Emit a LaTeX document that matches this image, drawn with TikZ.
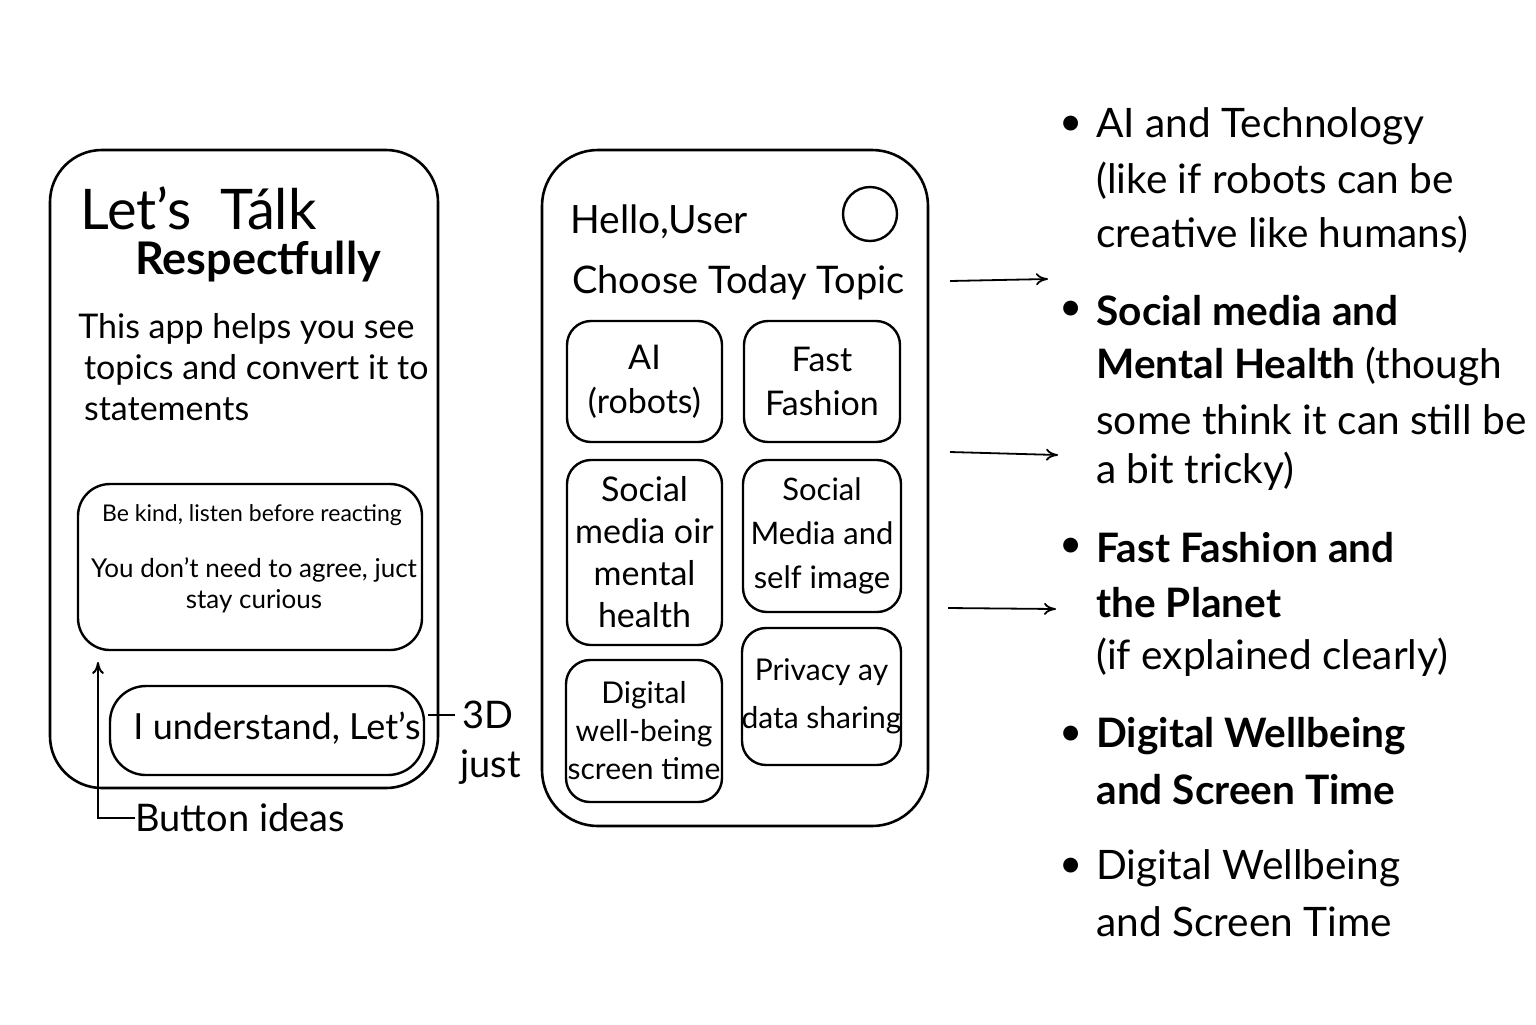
\documentclass[tikz,border=0pt]{standalone}
\usepackage{fontspec}
\setmainfont{Lato}
\usetikzlibrary{arrows.meta}
\begin{document}
\begin{tikzpicture}[x=0.5pt,y=-0.5pt]

\tikzset{
        every node/.style={inner sep=0pt},
        phone/.style={draw,line width=1.3pt,rounded corners=26pt},
        tile/.style={draw,line width=1.2pt,rounded corners=12pt},
        tiletext/.style={align=center},
        big/.style={font=\fontsize{19}{22}\selectfont},
        item/.style={anchor=west,font=\fontsize{20.3}{23}\selectfont},
        link/.style={->,>={To[length=6pt,width=6pt]},line width=0.9pt}
}

\useasboundingbox (0,0) rectangle (1536,1024);

% left phone
\draw[phone] (50,150) rectangle (438,788);
\node[anchor=west,font=\fontsize{28}{33}\selectfont] (talk) at (80,208) {Let’s\ \ Tálk};
\node[anchor=west,font=\fontsize{22.5}{25}\selectfont\bfseries] (resp) at (135,262) {Respectfully};
\node[anchor=north west,align=left,font=\fontsize{17}{20.5}\selectfont] (intro) at (78,313)
  {This app helps you see\\ \,topics and convert it to\\ \,statements};
\draw[tile,rounded corners=16pt] (78,484) rectangle (422,650);
\node[font=\fontsize{11.5}{14}\selectfont] (kind) at (252,515) {Be kind, listen before reacting};
\node[align=center,font=\fontsize{13}{15.5}\selectfont] (agree) at (254,585) {You don’t need to agree, juct\\ stay curious};
\draw[tile,rounded corners=18pt] (110,686) rectangle (424,775);
\node[font=\fontsize{18}{22}\selectfont] (btn) at (277,728) {I understand, Let’s};
\node[big,anchor=west] (ideas) at (135,818) {Button ideas};
\coordinate (up) at (98,662);
\draw[link,line width=1pt] (ideas.west) -- (98,818) -- (up);
\node[big,anchor=west] (three) at (462,715) {3D};
\node[big,anchor=west] (just) at (460,767) {just};
\draw[line width=1pt] (428,715) -- (455,715);

% middle phone
\draw[phone,rounded corners=28pt] (542,150) rectangle (928,826);
\node[anchor=west,font=\fontsize{19.5}{23}\selectfont] (hello) at (570,222) {Hello,User};
\node[draw,circle,line width=1.2pt,minimum size=27pt] (avatar) at (870,214) {};
\node[anchor=west,font=\fontsize{19}{22}\selectfont] (choose) at (572,283) {Choose Today Topic};

\foreach \n/\a/\b/\c/\d/\s/\l/\t in {
    ai/567/321/722/442/17/22/{AI\\(robots)},
    fashion/744/321/900/442/17/22/{Fast\\Fashion},
    social/567/460/722/645/17/21/{Social\\media oir\\mental\\health},
    self/743/460/901/612/15.5/22/{Social\\Media and\\self image},
    digital/566/660/722/802/15/19/{Digital\\well-being\\screen time},
    privacy/742/628/901/765/15/24/{Privacy ay\\data sharing}} {
  \draw[tile] (\a,\b) rectangle (\c,\d);
  \node[tiletext,font=\fontsize{\s}{\l}\selectfont] (\n) at ({(\a+\c)/2},{(\b+\d)/2}) {\t};
}

\coordinate (a1) at (1048,279);
\coordinate (a2) at (1058,455);
\coordinate (a3) at (1056,609);
\draw[link] (950,281) -- (a1);
\draw[link] (950,452) -- (a2);
\draw[link] (948,608) -- (a3);

% topic list
\foreach \y in {126,311,548,736,868}
  \node[item,font=\fontsize{20}{20}\selectfont] (b\y) at (1059,\y) {\textbullet};
\foreach \y/\t in {
    126/{AI and Technology},
    181/{(like if robots can be},
    235/{creative like humans)},
    311/{\textbf{Social media and}},
    366/{\textbf{Mental Health} (though},
    420/{some think it can still be},
    471/{a bit tricky)},
    548/{\textbf{Fast Fashion and}},
    603/{\textbf{the Planet}},
    657/{(if explained clearly)},
    736/{\textbf{Digital Wellbeing}},
    790/{\textbf{and Screen Time}},
    868/{Digital Wellbeing},
    922/{and Screen Time}}
  \node[item] (t\y) at (1096,\y) {\t};

\end{tikzpicture}
\end{document}
